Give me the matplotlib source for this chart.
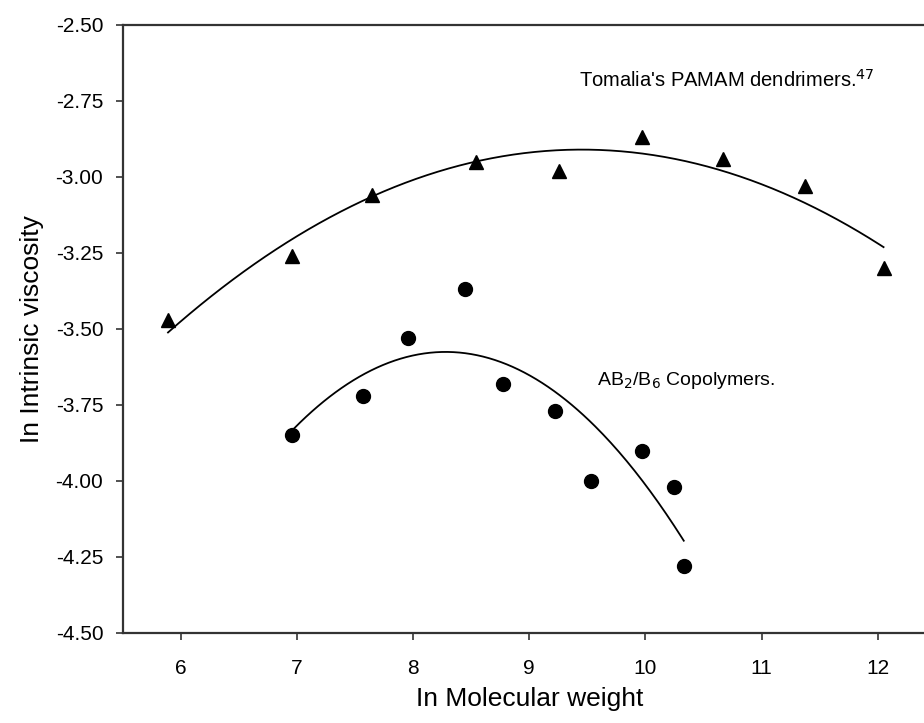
import numpy as np
import matplotlib
matplotlib.use("Agg")
from matplotlib import pyplot as plt

plt.rcParams['font.family'] = ['Liberation Sans', 'DejaVu Sans']

# PAMAM dendrimers (triangles)
pamam_x = [5.89, 6.96, 7.65, 8.54, 9.26, 9.97, 10.67, 11.37, 12.05]
pamam_y = [-3.47, -3.26, -3.06, -2.95, -2.98, -2.87, -2.94, -3.03, -3.30]

# AB2/B6 copolymers (circles)
copo_x = [6.96, 7.57, 7.96, 8.45, 8.77, 9.22, 9.53, 9.97, 10.25, 10.33]
copo_y = [-3.85, -3.72, -3.53, -3.37, -3.68, -3.77, -4.00, -3.90, -4.02, -4.28]

xticks = [6, 7, 8, 9, 10, 11, 12]
yticks = [-2.50, -2.75, -3.00, -3.25, -3.50, -3.75, -4.00, -4.25, -4.50]

fig = plt.figure(figsize=(9.24, 7.23), dpi=100)
ax = fig.add_axes([0.1328, 0.1245, 0.88, 0.841])

# quadratic fits
for xs, ys in [(pamam_x, pamam_y), (copo_x, copo_y)]:
    c = np.polyfit(xs, ys, 2)
    xx = np.linspace(min(xs), max(xs), 200)
    ax.plot(xx, np.polyval(c, xx), color='black', lw=1.3)

ax.plot(pamam_x, pamam_y, '^', color='black', ms=10, ls='none')
ax.plot(copo_x, copo_y, 'o', color='black', ms=10, ls='none')

ax.text(9.43, -2.68, "Tomalia's PAMAM dendrimers.$^{47}$", fontsize=14.5, va='center')
ax.text(9.58, -3.67, "AB$_2$/B$_6$ Copolymers.", fontsize=14, va='center')

ax.set_xlim(5.5, 12.5)
ax.set_ylim(-4.5, -2.5)
ax.set_xticks(xticks)
ax.set_yticks(yticks)
ax.set_yticklabels([f"{v:.2f}" for v in yticks])
ax.tick_params(direction='out', length=5, width=1.2, labelsize=15, color='#333333')
ax.tick_params(axis='y', pad=9)
ax.tick_params(axis='x', pad=14)
for s in ax.spines.values():
    s.set_linewidth(1.6)
    s.set_color('#333333')

ax.set_xlabel("In Molecular weight", fontsize=19, labelpad=6)
ax.set_ylabel("In Intrinsic viscosity", fontsize=19, labelpad=8)

fig.savefig("out.png", dpi=100)
